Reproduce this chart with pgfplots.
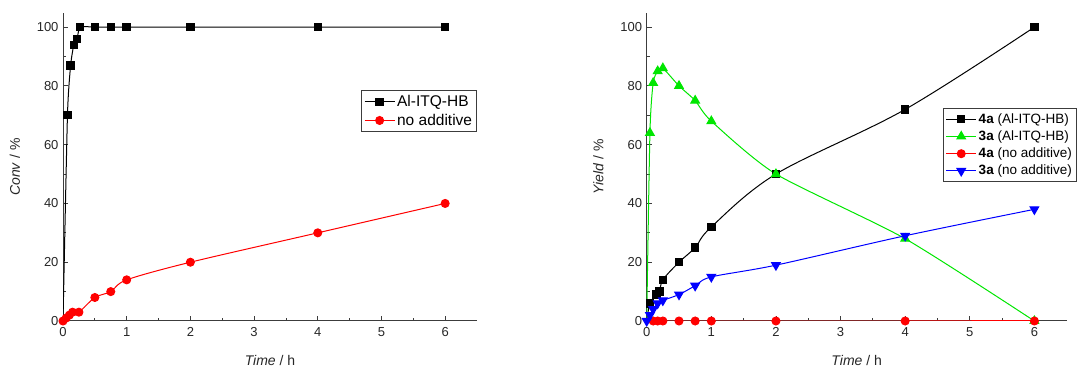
\documentclass[border=0pt]{standalone}
\usepackage{pgfplots}
\pgfplotsset{compat=1.18}
\usepackage{fontspec}
\setmainfont{Liberation Sans}
\definecolor{ogreen}{RGB}{0,230,0}
\definecolor{axgray}{RGB}{60,60,60}
\begin{document}
\fontsize{13}{15}\selectfont
\begin{tikzpicture}
\path[use as bounding box] (0,0) rectangle (1077pt,369pt);
\pgfplotsset{
  every axis/.append style={
    scale only axis, anchor=south west,
    xmin=0, xmax=6.5, ymin=0, ymax=104.8,
    axis x line=bottom, axis y line=left,
    axis line style={-, axgray, line width=1pt},
    tick align=inside, tick style={axgray, line width=0.8pt},
    major tick length=5pt, minor tick length=3pt,
    xtick={0,1,...,6}, ytick={0,20,...,100},
    minor x tick num=1, minor y tick num=1,
    tick label style={font=\fontsize{13}{15}\selectfont, text=black!85},
    label style={font=\fontsize{14}{16}\selectfont, text=black!85},
    /pgf/number format/assume math mode=true,
    xticklabel style={yshift=-2pt},
    xlabel={\textit{Time} / h},
    xlabel style={yshift=-10pt},
    ylabel style={yshift=8pt},
    legend cell align=left,
    legend style={draw=axgray, line width=0.8pt, inner sep=2.5pt, row sep=1.5pt},
    legend image code/.code={\draw[#1, mark indices={2}] plot coordinates {(0pt,0pt) (15pt,0pt) (30pt,0pt)};},
  },
}
\begin{axis}[at={(63pt,48pt)}, width=414pt, height=308pt,
  ylabel={\textit{Conv} / \%},
  legend style={at={(1,0.749)}, anchor=north east, font=\fontsize{15.5}{17}\selectfont},
]
\addplot[black, line width=1pt, smooth, tension=0.35, mark=square*, mark size=3.7pt, mark indices={2,...,12}, mark options={solid}]
  coordinates {(0,0) (0.07,70) (0.12,87) (0.17,94) (0.22,96) (0.27,100) (0.5,100) (0.75,100) (1,100) (2,100) (4,100) (6,100)};
\addlegendentry{Al-ITQ-HB}
\addplot[red, line width=1pt, smooth, tension=0.5, mark=*, mark size=4pt]
  coordinates {(0,0) (0.05,1) (0.1,2) (0.15,3) (0.25,3) (0.5,8) (0.75,10) (1,14) (2,20) (4,30) (6,40)};
\addlegendentry{no additive}
\end{axis}
\begin{axis}[at={(646.7pt,48pt)}, width=420pt, height=308pt,
  ylabel={\textit{Yield} / \%},
  legend style={at={(1.024,0.69)}, anchor=north east, font=\fontsize{13.5}{15}\selectfont},
]
\addplot[black, line width=1pt, smooth, tension=0.55, mark=square*, mark size=3.7pt, mark indices={2,...,12}]
  coordinates {(0,0) (0.05,6) (0.15,9) (0.2,10) (0.25,14) (0.5,20) (0.75,25) (1,32) (2,50) (4,72) (6,100)};
\addlegendentry{\textbf{4a} (Al-ITQ-HB)}
\addplot[ogreen, line width=1pt, smooth, tension=0.4, mark=triangle*, mark size=5pt, mark indices={2,...,12}]
  coordinates {(0,0) (0.05,64) (0.1,81) (0.17,85) (0.25,86) (0.5,80) (0.75,75) (1,68) (2,50) (4,28) (6,0)};
\addlegendentry{\textbf{3a} (Al-ITQ-HB)}
\addplot[red, line width=1pt, mark=*, mark size=4pt]
  coordinates {(0.1,0) (0.17,0) (0.25,0) (0.5,0) (0.75,0) (1,0) (2,0) (4,0) (6,0)};
\addlegendentry{\textbf{4a} (no additive)}
\addplot[blue, line width=1pt, smooth, tension=0.5, mark=triangle*, mark size=5pt, mark options={rotate=180}]
  coordinates {(0,0) (0.05,2) (0.1,4) (0.17,6) (0.25,7) (0.5,9) (0.75,12) (1,15) (2,19) (4,29) (6,38)};
\addlegendentry{\textbf{3a} (no additive)}
\end{axis}
\end{tikzpicture}
\end{document}
